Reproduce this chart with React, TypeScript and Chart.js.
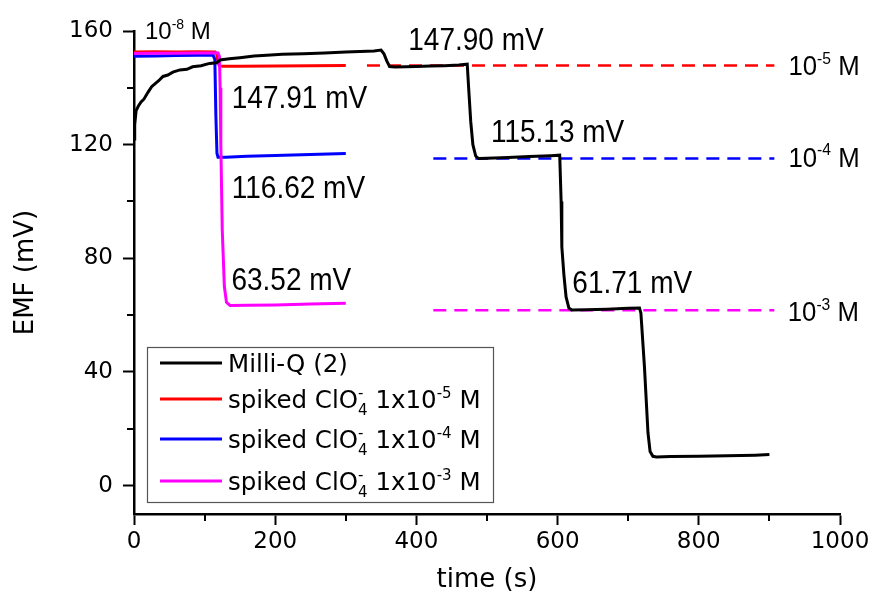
import React, { useEffect, useRef } from 'react';
import { Chart, registerables } from 'chart.js';

Chart.register(...registerables);

// ---------- data ----------
const milliQTime = [0, 1, 3, 6, 10, 14, 20, 25, 30, 35, 41, 48, 55, 65, 75, 83, 95, 107, 117, 122, 135, 150, 170, 188, 210, 240, 270, 300, 320, 340, 350, 354, 358, 362, 370, 400, 420, 440, 460, 472, 474, 477, 480, 484, 488, 500, 530, 560, 590, 603, 605, 606, 609, 612, 616, 620, 640, 670, 700, 716, 718, 723, 728, 731, 735, 740, 760, 800, 840, 880, 900];
const milliQEmf = [122, 127, 132, 133.5, 135, 136, 138.5, 140.4, 141.5, 142.5, 144, 144.5, 145.5, 146.3, 146.5, 147.4, 147.8, 148.6, 148.8, 149.8, 150.2, 150.6, 151.2, 151.5, 151.8, 152, 152.3, 152.6, 152.8, 153, 153.3, 152, 149.5, 147.5, 147.3, 147.5, 147.7, 147.8, 148, 148.3, 140, 128, 120, 116, 115.1, 115.2, 115.5, 115.8, 116.1, 116.3, 100, 84, 74, 66.4, 62.5, 61.8, 61.9, 62.1, 62.4, 62.5, 60.7, 41.9, 18.6, 12, 10.3, 10.1, 10.2, 10.3, 10.5, 10.7, 10.9];

const spike5Time = [0, 30, 60, 90, 115, 117, 119, 121, 125, 150, 200, 250, 300];
const spike5Emf = [152.6, 152.7, 152.6, 152.7, 152.6, 152, 149, 147.7, 147.6, 147.6, 147.7, 147.8, 147.9];

const spike4Time = [0, 30, 60, 90, 112, 114.5, 116, 117.5, 119, 130, 160, 200, 250, 300];
const spike4Emf = [151.1, 151.2, 151.4, 151.5, 151.5, 150, 130, 117, 115.6, 115.6, 115.9, 116.2, 116.5, 116.9];

const spike3Time = [0, 30, 60, 90, 119, 121, 122, 123, 125, 128, 131, 136, 160, 200, 250, 300];
const spike3Emf = [152.1, 152.2, 152.2, 152.3, 152.3, 151, 140, 120, 90, 70, 64.5, 63.4, 63.5, 63.6, 63.9, 64.2];

// reference (dashed) levels
const refLevels = [147.90, 115.13, 61.71];
const refStart = [330, 424, 424];
const refEnd = [907, 907, 907];

const xTicks = [0, 200, 400, 600, 800, 1000];
const xMinorTicks = [100, 300, 500, 700, 900];
const yTicks = [0, 40, 80, 120, 160];
const yMinorTicks = [20, 60, 100, 140];

const seriesColors = ['#000000', '#ff0000', '#0000ff', '#ff00ff'];

type Seg = { t?: string; sup?: string; sub?: string };

const legendEntries: Seg[][] = [
  [{ t: 'Milli-Q (2)' }],
  [{ t: 'spiked ClO' }, { sup: '-', sub: '4' }, { t: ' 1x10' }, { sup: '-5' }, { t: ' M' }],
  [{ t: 'spiked ClO' }, { sup: '-', sub: '4' }, { t: ' 1x10' }, { sup: '-4' }, { t: ' M' }],
  [{ t: 'spiked ClO' }, { sup: '-', sub: '4' }, { t: ' 1x10' }, { sup: '-3' }, { t: ' M' }],
];

const ARIAL = '"Liberation Sans", Arial, sans-serif';
const DV = '"DejaVu Sans", Verdana, sans-serif';

// text annotations, anchored in data coordinates (time, mV) at left/baseline
const annotations = [
  { segs: [{ t: '10' }, { sup: '-8' }, { t: ' M' }] as Seg[], x: 15.5, y: 157.3, size: 24, sx: 1 },
  { segs: [{ t: '147.91 mV' }] as Seg[], x: 138.5, y: 132.9, size: 32, sx: 0.875 },
  { segs: [{ t: '116.62 mV' }] as Seg[], x: 138.5, y: 101.3, size: 32, sx: 0.875 },
  { segs: [{ t: '63.52 mV' }] as Seg[], x: 138, y: 68.9, size: 32, sx: 0.875 },
  { segs: [{ t: '147.90 mV' }] as Seg[], x: 388.5, y: 153.3, size: 32, sx: 0.875 },
  { segs: [{ t: '115.13 mV' }] as Seg[], x: 505.6, y: 121.1, size: 32, sx: 0.875 },
  { segs: [{ t: '61.71 mV' }] as Seg[], x: 620.9, y: 67.8, size: 32, sx: 0.875 },
  { segs: [{ t: '10' }, { sup: '-5' }, { t: ' M' }] as Seg[], x: 927, y: 144.5, size: 28, sx: 0.92 },
  { segs: [{ t: '10' }, { sup: '-4' }, { t: ' M' }] as Seg[], x: 927, y: 112.3, size: 28, sx: 0.92 },
  { segs: [{ t: '10' }, { sup: '-3' }, { t: ' M' }] as Seg[], x: 926, y: 57.8, size: 28, sx: 0.92 },
];

function drawRich(ctx: CanvasRenderingContext2D, segs: Seg[], x: number, y: number, size: number, family: string, sx: number, color = '#000') {
  ctx.save();
  ctx.translate(x, y);
  ctx.scale(sx, 1);
  ctx.fillStyle = color;
  ctx.textAlign = 'left';
  ctx.textBaseline = 'alphabetic';
  const small = Math.round(size * 0.6);
  let cx = 0;
  for (const s of segs) {
    if (s.t !== undefined) {
      ctx.font = `${size}px ${family}`;
      ctx.fillText(s.t, cx, 0);
      cx += ctx.measureText(s.t).width;
    } else {
      ctx.font = `${small}px ${family}`;
      let w = 0;
      if (s.sup) {
        ctx.fillText(s.sup, cx, -size * 0.4);
        w = Math.max(w, ctx.measureText(s.sup).width);
      }
      if (s.sub) {
        ctx.fillText(s.sub, cx, size * 0.3);
        w = Math.max(w, ctx.measureText(s.sub).width);
      }
      cx += w;
    }
  }
  ctx.restore();
}

const toPoints = (xs: number[], ys: number[]) => xs.map((x, i) => ({ x, y: ys[i] }));

const annotationPlugin = {
  id: 'annotationText',
  afterDraw(chart: any) {
    const { ctx, scales } = chart;
    for (const a of annotations) {
      const px = scales.x.getPixelForValue(a.x);
      const py = scales.y.getPixelForValue(a.y);
      drawRich(ctx, a.segs, px, py, a.size, ARIAL, a.sx);
    }
  },
};

const minorTickPlugin = {
  id: 'minorTicks',
  afterDraw(chart: any) {
    const { ctx, scales, chartArea } = chart;
    ctx.save();
    ctx.strokeStyle = '#000';
    ctx.lineWidth = 2;
    for (const v of xMinorTicks) {
      const px = Math.round(scales.x.getPixelForValue(v));
      ctx.beginPath();
      ctx.moveTo(px, chartArea.bottom);
      ctx.lineTo(px, chartArea.bottom + 7);
      ctx.stroke();
    }
    for (const v of yMinorTicks) {
      const py = Math.round(scales.y.getPixelForValue(v));
      ctx.beginPath();
      ctx.moveTo(chartArea.left, py);
      ctx.lineTo(chartArea.left - 7, py);
      ctx.stroke();
    }
    ctx.restore();
  },
};

const legendPlugin = {
  id: 'customLegend',
  afterDraw(chart: any) {
    const { ctx } = chart;
    const left = 147;
    const top = 347;
    const w = 346;
    const h = 155;
    const rowOffsets = [16, 52, 92, 134];
    ctx.save();
    ctx.fillStyle = '#fff';
    ctx.fillRect(left, top, w, h);
    ctx.strokeStyle = '#555';
    ctx.lineWidth = 1.2;
    ctx.strokeRect(left + 0.5, top + 0.5, w, h);
    legendEntries.forEach((segs, i) => {
      const ry = top + rowOffsets[i];
      ctx.strokeStyle = seriesColors[i];
      ctx.lineWidth = 3;
      ctx.beginPath();
      ctx.moveTo(160, ry);
      ctx.lineTo(222, ry);
      ctx.stroke();
      drawRich(ctx, segs, 228, ry + 8.7, 24.5, DV, 1, '#000');
    });
    ctx.restore();
  },
};

export default function App() {
  const canvasRef = useRef<HTMLCanvasElement | null>(null);

  useEffect(() => {
    const canvas = canvasRef.current;
    if (!canvas) return;

    const mainSeries = [
      { label: 'Milli-Q (2)', xs: milliQTime, ys: milliQEmf, order: 1 },
      { label: 'spiked ClO4- 1x10-5 M', xs: spike5Time, ys: spike5Emf, order: 4 },
      { label: 'spiked ClO4- 1x10-4 M', xs: spike4Time, ys: spike4Emf, order: 3 },
      { label: 'spiked ClO4- 1x10-3 M', xs: spike3Time, ys: spike3Emf, order: 2 },
    ];

    const datasets: any[] = mainSeries.map((s, i) => ({
      label: s.label,
      data: toPoints(s.xs, s.ys),
      showLine: true,
      borderColor: seriesColors[i],
      backgroundColor: seriesColors[i],
      borderWidth: 3,
      pointRadius: 0,
      tension: 0,
      fill: false,
      order: s.order,
    }));

    refLevels.forEach((lvl, i) => {
      datasets.push({
        label: `ref ${i}`,
        data: [
          { x: refStart[i], y: lvl },
          { x: refEnd[i], y: lvl },
        ],
        showLine: true,
        borderColor: seriesColors[i + 1],
        borderWidth: 2.5,
        borderDash: [13, 8],
        pointRadius: 0,
        fill: false,
        order: 6,
        clip: false,
      });
    });

    const chart = new Chart(canvas, {
      type: 'scatter',
      data: { datasets },
      options: {
        animation: false,
        responsive: false,
        events: [],
        layout: { padding: { left: 0, right: 33, top: 31, bottom: 0 } },
        plugins: {
          legend: { display: false },
          tooltip: { enabled: false },
          title: { display: false },
        },
        scales: {
          x: {
            type: 'linear',
            min: 0,
            max: 1000,
            afterBuildTicks: (s: any) => {
              s.ticks = xTicks.map((v) => ({ value: v }));
            },
            afterFit: (s: any) => {
              s.height = 83;
            },
            ticks: {
              font: { family: DV, size: 23 },
              color: '#000',
              padding: 3,
              maxRotation: 0,
              autoSkip: false,
              callback: (v: any) => String(v),
            },
            grid: {
              drawOnChartArea: false,
              drawTicks: true,
              tickLength: 11,
              tickWidth: 2,
              tickColor: '#000',
            },
            border: { display: true, color: '#000', width: 2.5 },
            title: {
              display: true,
              text: 'time (s)',
              font: { family: DV, size: 26 },
              color: '#000',
              padding: { top: 0, bottom: 1 },
            },
          },
          y: {
            type: 'linear',
            min: -10,
            max: 160,
            afterBuildTicks: (s: any) => {
              s.ticks = yTicks.map((v) => ({ value: v }));
            },
            afterFit: (s: any) => {
              s.width = 134;
            },
            ticks: {
              font: { family: DV, size: 23 },
              color: '#000',
              padding: 10,
              autoSkip: false,
              callback: (v: any) => String(v),
            },
            grid: {
              drawOnChartArea: false,
              drawTicks: true,
              tickLength: 11,
              tickWidth: 2,
              tickColor: '#000',
            },
            border: { display: true, color: '#000', width: 2.5 },
            title: {
              display: true,
              text: 'EMF (mV)',
              font: { family: DV, size: 26 },
              color: '#000',
              padding: { top: 11, bottom: 0 },
            },
          },
        },
      },
      plugins: [minorTickPlugin, legendPlugin, annotationPlugin],
    });

    return () => {
      chart.destroy();
    };
  }, []);

  return (
    <div style={{ position: 'fixed', left: 0, top: 0, width: 873, height: 597, background: '#fff' }}>
      <canvas ref={canvasRef} width={873} height={597} style={{ display: 'block' }} />
    </div>
  );
}
